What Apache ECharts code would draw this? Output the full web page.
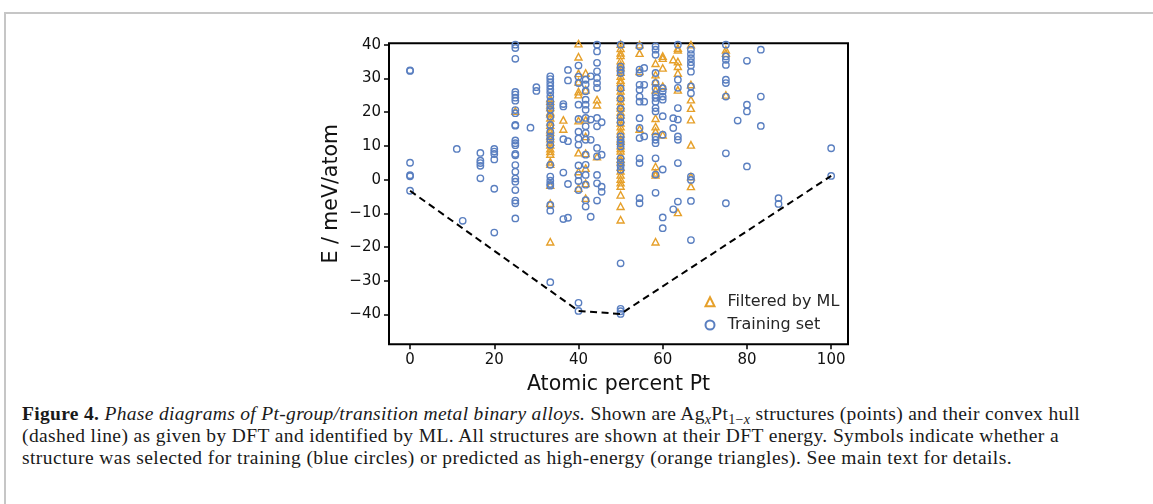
<!DOCTYPE html>
<html>
<head>
<meta charset="utf-8">
<script src="https://cdn.jsdelivr.net/npm/echarts@6.0.0/dist/echarts.min.js"></script>
<style>
  html, body { margin: 0; padding: 0; background: #fff; }
  #page { position: relative; width: 1153px; height: 504px; overflow: hidden; background: #fff; }
  #frame { position: absolute; left: 4px; top: 12px; right: -4px; bottom: -4px;
           border-top: 2px solid #c6c6c6; border-left: 2px solid #c6c6c6; }
  #chart { position: absolute; left: 0; top: 0; width: 1153px; height: 400px; }
  #caption { position: absolute; left: 22px; top: 403px; font-family: 'Liberation Serif', 'Times New Roman', Times, serif;
             font-size: 19.5px; line-height: 22px; color: #1a1a1a; }
  #caption .ln { display: block; white-space: nowrap; }
  #caption .ln span.fit { display: inline-block; }
  sub { font-size: 0.72em; vertical-align: -0.25em; line-height: 0; }
</style>
</head>
<body>
<div id="page">
  <div id="frame"></div>
  <div id="chart"></div>
  <div id="caption">
    <div class="ln"><span class="fit" data-w="1058"><b>Figure 4.</b> <i>Phase diagrams of Pt-group/transition metal binary alloys.</i> Shown are Ag<sub><i>x</i></sub>Pt<sub>1−<i>x</i></sub> structures (points) and their convex hull</span></div>
    <div class="ln"><span class="fit" data-w="1037">(dashed line) as given by DFT and identified by ML. All structures are shown at their DFT energy. Symbols indicate whether a</span></div>
    <div class="ln"><span class="fit" data-w="990">structure was selected for training (blue circles) or predicted as high-energy (orange triangles). See main text for details.</span></div>
  </div>
</div>
<script>
// ---- data (atomic percent Pt, energy in meV/atom) ----
const xTicks = [0, 20, 40, 60, 80, 100];
const yTicks = [-40, -30, -20, -10, 0, 10, 20, 30, 40];

const filteredByML = [
  [25,   [20.3]],
  [33.3, [24.1, 23.3, 22.2, 21.4, 20.1, 19.6, 18.3, 17.1, 16.2, 14.8, 14.1, 13.0, 12.2, 11.1, 10.3, 9.2, 8.4, 7.6, 5.3, 4.6, -1.6, -7.0, -18.4]],
  [36.4, [17.7, 15.0]],
  [40,   [40.3, 36.4, 31.5, 29.0, 26.1, 25.2, 17.5, 8.0, 2.4, -2.5]],
  [41.7, [31.6, 26.6, 17.7, 12.8, 7.8, 3.4, -1.1, -5.5]],
  [44.4, [23.7, 22.2, 6.8]],
  [50,   [40.2, 38.9, 37.6, 36.8, 35.3, 34.1, 33.2, 31.9, 30.7, 29.5, 28.8, 27.4, 26.3, 25.1, 24.4, 23.2, 22.0, 21.3, 20.1, 19.2, 17.9, 16.8, 15.7, 14.5, 13.6, 12.2, 11.4, 10.1, 9.3, 8.5, 7.2, 6.1, 5.3, 3.7, 2.6, 1.4, 0.2, -0.9, -1.9, -4.5, -7.9, -11.9]],
  [54.5, [40.0, 37.5, 32.1, 15.0]],
  [58.3, [34.5, 31.1, 29.1, 26.6, 18.2, 15.7, 14.3, 3.9, 2.0, 1.4, -18.4]],
  [60,   [36.6, 36.0, 33.1, 27.7, 13.3]],
  [62.5, [35.6]],
  [63.6, [39.0, 38.5, 35.0, 33.6, 31.6, 26.6, -9.7]],
  [66.7, [40.0, 28.2, 23.7, 21.2, 17.8, 10.3, 0.9, -2.0]],
  [75,   [38.5, 37.5, 25.1]]
];

const trainingSet = [
  [0,    [32.4, 32.2, 5.0, 1.3, 1.0, -3.3]],
  [11.1, [9.1]],
  [12.5, [-12.2]],
  [16.7, [7.9, 5.6, 4.9, 4.1, 0.4]],
  [20,   [9.1, 8.3, 7.6, 6.0, -2.7, -15.7]],
  [25,   [40.0, 39.0, 35.8, 26.0, 25.2, 24.3, 23.4, 20.6, 19.7, 16.2, 16.0, 11.6, 10.8, 10.2, 7.6, 7.2, 4.3, 2.3, 0.3, -0.6, -3.1, -6.2, -7.0, -11.5]],
  [28.6, [15.4]],
  [30,   [27.4, 26.3]],
  [33.3, [30.6, 29.8, 28.8, 27.8, 26.8, 25.8, 24.6, 23.1, 21.9, 20.7, 18.7, 16.2, 14.2, 12.8, 11.8, 10.3, 4.4, 0.9, -0.3, -1.3, -1.8, -7.5, -9.2, -30.4]],
  [36.4, [22.4, 21.7, 12.0, 2.1, -11.7]],
  [37.5, [32.5, 29.4, 11.4, -1.3, -11.3]],
  [40,   [33.8, 30.5, 28.6, 22.2, 18.0, 14.2, 12.2, 10.3, 4.2, 1.4, -0.4, -3.1, -36.5, -38.9]],
  [41.7, [29.6, 28.2, 26.2, 23.7, 22.2, 20.7, 18.3, 15.8, 13.8, 11.8, 7.4, 4.4, 1.4, -1.5, -6.1, -8.0]],
  [42.9, [30.6, 17.8, 11.8, -11.0]],
  [44.4, [40.0, 38.0, 34.6, 32.1, 30.1, 28.6, 27.2, 18.3, 15.8, 9.4, 6.9, 1.4, -1.1, -6.2]],
  [45.5, [17.0, 7.4, -2.1, -3.6]],
  [50,   [40.0, 33.5, 32.5, 31.6, 27.0, 24.0, 21.0, 18.5, 17.0, 12.8, 11.8, 10.8, 9.8, 6.3, 5.0, 4.0, 2.9, -24.8, -38.3, -39.0, -39.8]],
  [54.5, [39.5, 32.6, 31.6, 28.1, 26.6, 24.6, 23.1, 18.2, 15.3, 12.3, 6.3, 4.9, -5.5, -7.0]],
  [55.6, [33.1, 28.1, 23.1, 12.8]],
  [58.3, [39.5, 38.5, 37.0, 31.6, 28.6, 27.1, 25.1, 24.2, 23.1, 21.2, 20.2, 12.8, 11.8, 10.8, 6.3, 1.5, -3.9]],
  [60,   [27.1, 26.1, 24.6, 23.7, 18.8, 13.3, 3.0, -11.2, -14.4]],
  [62.5, [18.2, 15.3, -8.8]],
  [63.6, [40.0, 29.6, 27.2, 21.2, 17.8, 12.8, 11.8, 4.9, -6.5]],
  [66.7, [38.5, 37.2, 36.0, 34.8, 33.8, 32.0, 27.6, 25.6, 0.9, -0.1, -6.3, -17.9]],
  [75,   [40.0, 36.5, 35.5, 34.0, 29.6, 28.6, 24.6, 7.8, -7.0]],
  [77.8, [17.5]],
  [80,   [35.2, 22.2, 20.2, 3.9]],
  [83.3, [38.5, 24.6, 15.9]],
  [87.5, [-5.5, -7.2]],
  [100,  [9.3, 1.1]]
];

const hullX = [0, 40, 50, 100];
const hullE = [-3.3, -38.9, -39.8, 1.1];

// ---- build ----
function flatten(groups) {
  const out = [];
  groups.forEach(([x, ys]) => ys.forEach(y => out.push([x, y])));
  return out;
}
const minusFmt = v => (v < 0 ? '\u2212' + Math.abs(v) : String(v));
const FONT = 'DejaVu Sans';
const BLUE = '#5a7fc0';
const ORANGE = '#e6a02a';

const chart = echarts.init(document.getElementById('chart'), null, { renderer: 'canvas' });
chart.setOption({
  animation: false,
  grid: { left: 389, top: 43.3, width: 459, height: 301, show: true, borderColor: '#000', borderWidth: 2,
          backgroundColor: 'transparent', containLabel: false, outerBoundsMode: 'none' },
  legend: {
    orient: 'vertical', left: 704.5, top: 291.7, padding: 0, itemGap: 3.3,
    itemWidth: 9, itemHeight: 9, symbolKeepAspect: true,
    textStyle: { fontFamily: FONT, fontSize: 16, color: '#262626', lineHeight: 20, padding: [0, 0, 0, 8] },
    data: ['Filtered by ML', 'Training set']
  },
  xAxis: {
    type: 'value', min: -5, max: 104,
    name: 'Atomic percent Pt', nameLocation: 'middle', nameGap: 30,
    nameTextStyle: { fontFamily: FONT, fontSize: 20.5, color: '#111' },
    axisLine: { show: false, onZero: false },
    splitLine: { show: false },
    axisTick: { show: true, inside: false, length: 5, lineStyle: { color: '#000', width: 1.5 }, customValues: xTicks },
    axisLabel: { fontFamily: FONT, fontSize: 15, color: '#111', margin: 8, customValues: xTicks, formatter: minusFmt }
  },
  yAxis: {
    type: 'value', min: -48.8, max: 40.4,
    name: 'E / meV/atom', nameLocation: 'middle', nameGap: 47,
    nameTextStyle: { fontFamily: FONT, fontSize: 20.5, color: '#111' },
    axisLine: { show: false, onZero: false },
    splitLine: { show: false },
    axisTick: { show: true, inside: false, length: 5, lineStyle: { color: '#000', width: 1.5 }, customValues: yTicks },
    axisLabel: { fontFamily: FONT, fontSize: 15, color: '#111', margin: 8, customValues: yTicks, formatter: minusFmt }
  },
  series: [
    {
      name: 'Filtered by ML', type: 'scatter', symbol: 'triangle', symbolSize: [7, 6.5], symbolKeepAspect: true,
      itemStyle: { color: 'rgba(0,0,0,0)', borderColor: ORANGE, borderWidth: 1.4, opacity: 1 },
      data: flatten(filteredByML), clip: true, z: 2
    },
    {
      name: 'Training set', type: 'scatter', symbol: 'circle', symbolSize: 6.4,
      itemStyle: { color: 'rgba(0,0,0,0)', borderColor: BLUE, borderWidth: 1.4, opacity: 1 },
      data: flatten(trainingSet), clip: true, z: 3
    },
    {
      name: 'hull', type: 'line', symbol: 'none', silent: true, z: 4,
      lineStyle: { color: '#000', width: 2, type: [7, 4.5] },
      data: hullX.map((x, i) => [x, hullE[i]])
    }
  ]
});

// caption: fit each line to the measured width of the reference
document.querySelectorAll('#caption .fit').forEach(el => {
  const target = parseFloat(el.dataset.w);
  const w = el.getBoundingClientRect().width;
  const n = el.textContent.length;
  el.style.letterSpacing = ((target - w) / n).toFixed(3) + 'px';
});
</script>
</body>
</html>
